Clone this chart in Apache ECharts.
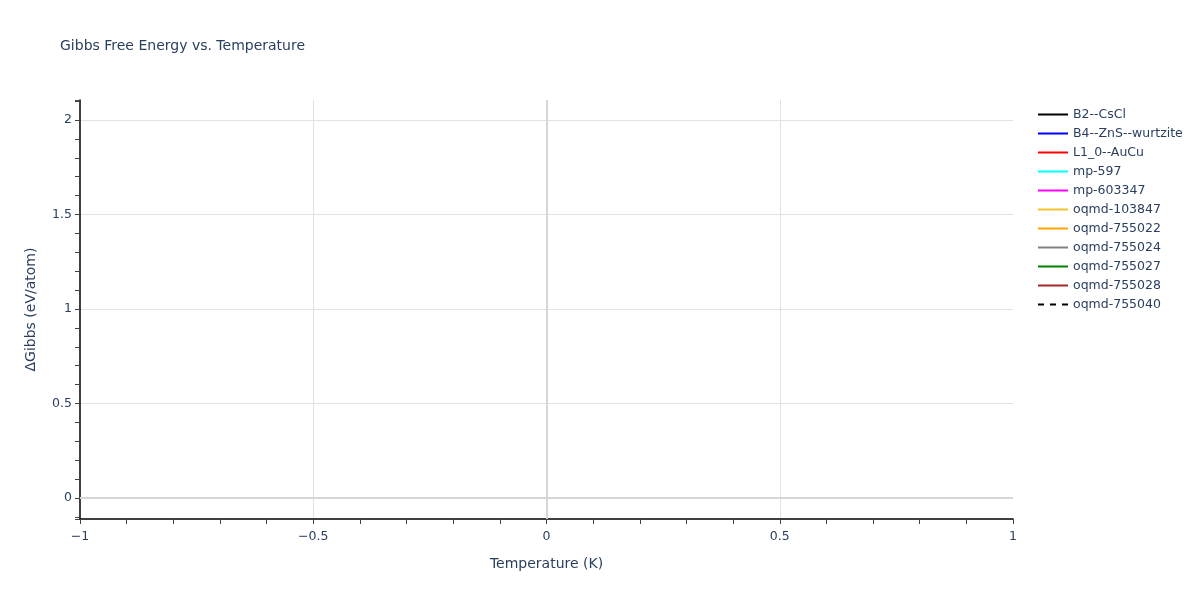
<!DOCTYPE html>
<html>
<head>
<meta charset="utf-8">
<title>Gibbs Free Energy vs. Temperature</title>
<script src="https://cdn.jsdelivr.net/npm/echarts@6/dist/echarts.min.js"></script>
<style>
    html, body { margin: 0; padding: 0; background: #fff; }
    #chart { width: 1200px; height: 600px; }
</style>
</head>
<body>
<div id="chart"></div>
<script>
// phases in the legend
var phase_names = ['B2--CsCl', 'B4--ZnS--wurtzite', 'L1_0--AuCu', 'mp-597', 'mp-603347',
    'oqmd-103847', 'oqmd-755022', 'oqmd-755024', 'oqmd-755027', 'oqmd-755028', 'oqmd-755040'];
// temperature samples (K) - only one point per phase, so no line shows up
var temperature = [0];
// delta Gibbs (eV/atom) per phase
var gibbs_b2 = [0];
var gibbs_b4 = [0];
var gibbs_l10 = [0];
var gibbs_mp597 = [0];
var gibbs_mp603347 = [0];
var gibbs_oqmd103847 = [0];
var gibbs_oqmd755022 = [0];
var gibbs_oqmd755024 = [0];
var gibbs_oqmd755027 = [0];
var gibbs_oqmd755028 = [0];
var gibbs_oqmd755040 = [0];
// axis ranges as shown
var x_range = [-1, 1];
var y_range = [-0.111, 2.106];

var line_colors = ['#000000', '#0000ff', '#ff0000', '#00ffff', '#ff00ff',
    '#f2c22a', '#ffa500', '#808080', '#008000', '#a52a2a', '#000000'];

window.onload = function () {
    var all_gibbs = [gibbs_b2, gibbs_b4, gibbs_l10, gibbs_mp597, gibbs_mp603347, gibbs_oqmd103847,
        gibbs_oqmd755022, gibbs_oqmd755024, gibbs_oqmd755027, gibbs_oqmd755028, gibbs_oqmd755040];

    var series = [];
    for (var i = 0; i < phase_names.length; i++) {
        var pts = [];
        for (var j = 0; j < temperature.length; j++) {
            pts.push([temperature[j], all_gibbs[i][j]]);
        }
        series.push({
            name: phase_names[i],
            type: 'line',
            data: pts,
            symbol: 'none',
            lineStyle: {
                color: line_colors[i],
                width: 2,
                type: i == phase_names.length - 1 ? [6, 6] : 'solid'
            },
            itemStyle: { color: line_colors[i] }
        });
    }
    // plotly-like zero lines
    series[0].markLine = {
        silent: true,
        symbol: 'none',
        label: { show: false },
        lineStyle: { color: '#d6d6d6', width: 2, type: 'solid' },
        data: [{ xAxis: 0 }, { yAxis: 0 }]
    };

    var txt = '#2a3f5f';
    var font = '"DejaVu Sans", Verdana, sans-serif';

    var myChart = echarts.init(document.getElementById('chart'));
    myChart.setOption({
        animation: false,
        backgroundColor: '#ffffff',
        title: {
            text: 'Gibbs Free Energy vs. Temperature',
            left: 55,
            top: 34,
            textStyle: { color: txt, fontSize: 14, fontWeight: 'normal', fontFamily: font }
        },
        legend: {
            orient: 'vertical',
            left: 1032,
            top: 103,
            itemWidth: 30,
            itemHeight: 14,
            itemGap: 6,
            itemStyle: { opacity: 0 },
            textStyle: { color: txt, fontSize: 12.5, fontFamily: font },
            data: phase_names
        },
        grid: { left: 80, right: 187, top: 100, bottom: 81 },
        xAxis: {
            type: 'value',
            min: x_range[0],
            max: x_range[1],
            interval: 0.5,
            name: 'Temperature (K)',
            nameLocation: 'middle',
            nameGap: 38,
            nameTextStyle: { color: txt, fontSize: 14, fontFamily: font },
            axisLine: { show: true, onZero: false, lineStyle: { color: '#000', width: 1.5 } },
            axisTick: { show: true, inside: false, length: 5, lineStyle: { color: '#444' } },
            minorTick: { show: true, splitNumber: 5, length: 5, lineStyle: { color: '#444' } },
            axisLabel: {
                color: txt, fontSize: 12.5, fontFamily: font, margin: 11,
                formatter: function (v) { return String(v).replace('-', '\u2212'); }
            },
            splitLine: {
                show: true, showMinLine: false, showMaxLine: false,
                lineStyle: { color: '#e2e2e2', width: 1 }
            }
        },
        yAxis: {
            type: 'value',
            min: y_range[0],
            max: y_range[1],
            minInterval: 0.5,
            maxInterval: 0.5,
            name: '\u0394Gibbs (eV/atom)',
            nameLocation: 'middle',
            nameGap: 42,
            nameTextStyle: { color: txt, fontSize: 14, fontFamily: font },
            axisLine: { show: true, onZero: false, lineStyle: { color: '#000', width: 1.5 } },
            axisTick: { show: true, inside: false, length: 5, lineStyle: { color: '#444' } },
            minorTick: { show: true, splitNumber: 5, length: 5, lineStyle: { color: '#444' } },
            axisLabel: {
                color: txt, fontSize: 12.5, fontFamily: font, margin: 8,
                showMinLabel: false, showMaxLabel: false
            },
            splitLine: {
                show: true, showMinLine: false, showMaxLine: false,
                lineStyle: { color: '#e2e2e2', width: 1 }
            }
        },
        series: series
    });
}
</script>
</body>
</html>
